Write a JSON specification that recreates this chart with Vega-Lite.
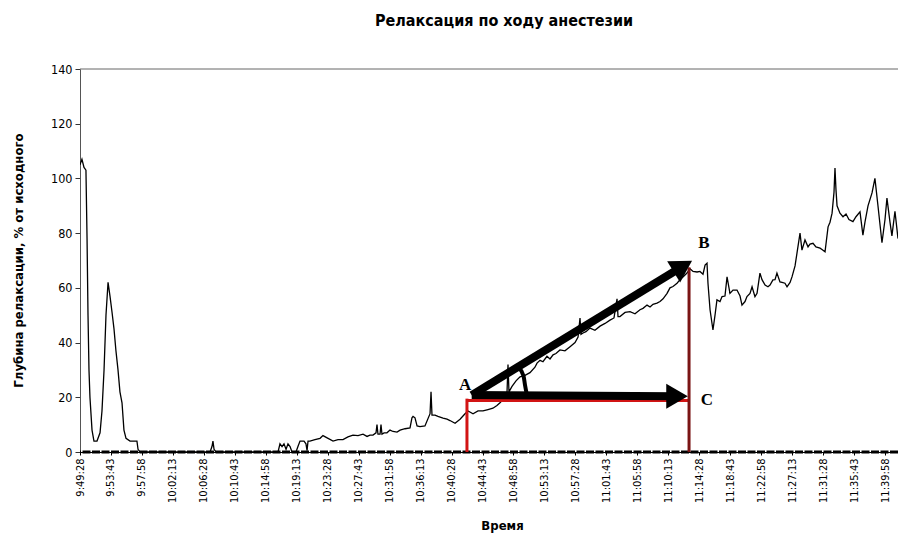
{
  "$schema": "https://vega.github.io/schema/vega-lite/v6.json",
  "width": 818,
  "height": 383,
  "autosize": "none",
  "padding": {"left": 80, "top": 69, "right": 0, "bottom": 82},
  "background": "white",
  "config": {
    "view": {"stroke": null},
    "font": "Liberation Sans Narrow, DejaVu Sans Condensed, sans-serif",
    "axisX": {"labelOverlap": false, "labelBound": false}
  },
  "title": {
    "text": "Релаксация по ходу анестезии",
    "fontSize": 16,
    "fontWeight": "bold",
    "color": "black",
    "offset": 34,
    "dx": 15,
    "font": "Liberation Sans Narrow, DejaVu Sans Condensed, sans-serif"
  },
  "datasets": {
    "series": [
      {"t": "9:49:28", "v": 105}, {"t": "9:49:44", "v": 107}, {"t": "9:50:01", "v": 104}, {"t": "9:50:17", "v": 103},
      {"t": "9:50:26", "v": 78}, {"t": "9:50:34", "v": 50}, {"t": "9:50:42", "v": 30}, {"t": "9:50:50", "v": 20},
      {"t": "9:51:07", "v": 8}, {"t": "9:51:23", "v": 4}, {"t": "9:51:48", "v": 4}, {"t": "9:52:13", "v": 7},
      {"t": "9:52:29", "v": 15}, {"t": "9:52:46", "v": 30}, {"t": "9:53:02", "v": 50}, {"t": "9:53:19", "v": 62},
      {"t": "9:53:35", "v": 57}, {"t": "9:53:52", "v": 51}, {"t": "9:54:08", "v": 45}, {"t": "9:54:24", "v": 37},
      {"t": "9:54:41", "v": 30}, {"t": "9:54:57", "v": 22}, {"t": "9:55:14", "v": 18}, {"t": "9:55:30", "v": 8},
      {"t": "9:55:47", "v": 5}, {"t": "9:56:20", "v": 4}, {"t": "9:56:53", "v": 4}, {"t": "9:57:17", "v": 4},
      {"t": "9:57:26", "v": 1}, {"t": "9:57:42", "v": 0}, {"t": "10:07:19", "v": 0}, {"t": "10:07:35", "v": 2},
      {"t": "10:07:43", "v": 4}, {"t": "10:07:52", "v": 1}, {"t": "10:08:08", "v": 0}, {"t": "10:16:39", "v": 0},
      {"t": "10:16:55", "v": 3}, {"t": "10:17:12", "v": 2}, {"t": "10:17:28", "v": 3}, {"t": "10:17:45", "v": 1},
      {"t": "10:18:01", "v": 3}, {"t": "10:18:18", "v": 2}, {"t": "10:18:34", "v": 0}, {"t": "10:19:07", "v": 0},
      {"t": "10:19:23", "v": 2}, {"t": "10:19:40", "v": 4}, {"t": "10:20:13", "v": 4}, {"t": "10:20:29", "v": 3},
      {"t": "10:20:38", "v": 0.5}, {"t": "10:20:46", "v": 4}, {"t": "10:21:02", "v": 4}, {"t": "10:21:43", "v": 4.5},
      {"t": "10:22:25", "v": 5}, {"t": "10:22:49", "v": 6}, {"t": "10:23:31", "v": 5}, {"t": "10:24:12", "v": 4},
      {"t": "10:24:53", "v": 4.5}, {"t": "10:25:34", "v": 4.5}, {"t": "10:26:15", "v": 5.5}, {"t": "10:26:56", "v": 6.2},
      {"t": "10:27:38", "v": 6}, {"t": "10:28:19", "v": 6.5}, {"t": "10:28:52", "v": 5.7}, {"t": "10:29:16", "v": 6.2},
      {"t": "10:29:41", "v": 6.2}, {"t": "10:30:06", "v": 7}, {"t": "10:30:14", "v": 10}, {"t": "10:30:22", "v": 6.5},
      {"t": "10:30:39", "v": 6.5}, {"t": "10:30:47", "v": 10}, {"t": "10:30:55", "v": 6.5}, {"t": "10:31:12", "v": 7},
      {"t": "10:31:36", "v": 7}, {"t": "10:32:01", "v": 8}, {"t": "10:32:26", "v": 7.5}, {"t": "10:32:59", "v": 7.3},
      {"t": "10:33:24", "v": 8}, {"t": "10:34:05", "v": 8.5}, {"t": "10:34:46", "v": 8.8}, {"t": "10:35:02", "v": 12.5},
      {"t": "10:35:11", "v": 13}, {"t": "10:35:27", "v": 12.5}, {"t": "10:35:44", "v": 9.5}, {"t": "10:36:08", "v": 9.3},
      {"t": "10:36:49", "v": 9.5}, {"t": "10:37:31", "v": 14}, {"t": "10:37:39", "v": 22}, {"t": "10:37:47", "v": 13.5},
      {"t": "10:38:12", "v": 13.5}, {"t": "10:38:36", "v": 13}, {"t": "10:39:18", "v": 12.4}, {"t": "10:39:51", "v": 12},
      {"t": "10:40:15", "v": 11.5}, {"t": "10:40:57", "v": 10.5}, {"t": "10:41:38", "v": 12}, {"t": "10:42:19", "v": 14},
      {"t": "10:42:44", "v": 15}, {"t": "10:43:25", "v": 14}, {"t": "10:44:06", "v": 15}, {"t": "10:44:47", "v": 15},
      {"t": "10:45:28", "v": 15.5}, {"t": "10:46:09", "v": 16}, {"t": "10:46:42", "v": 17}, {"t": "10:47:07", "v": 18},
      {"t": "10:47:48", "v": 20}, {"t": "10:48:05", "v": 22}, {"t": "10:48:13", "v": 32}, {"t": "10:48:21", "v": 22},
      {"t": "10:48:46", "v": 24}, {"t": "10:49:19", "v": 26}, {"t": "10:49:52", "v": 27.5}, {"t": "10:50:33", "v": 28},
      {"t": "10:51:14", "v": 29}, {"t": "10:51:55", "v": 31}, {"t": "10:52:12", "v": 32.5}, {"t": "10:52:37", "v": 33.5},
      {"t": "10:53:01", "v": 33}, {"t": "10:53:34", "v": 35}, {"t": "10:53:59", "v": 34}, {"t": "10:54:24", "v": 35.5},
      {"t": "10:54:48", "v": 36}, {"t": "10:55:21", "v": 37.3}, {"t": "10:56:02", "v": 37}, {"t": "10:56:44", "v": 38.5},
      {"t": "10:57:25", "v": 40}, {"t": "10:57:50", "v": 42}, {"t": "10:58:06", "v": 49}, {"t": "10:58:14", "v": 43},
      {"t": "10:58:31", "v": 43.5}, {"t": "10:58:55", "v": 44}, {"t": "10:59:28", "v": 45.3}, {"t": "11:00:09", "v": 44.5},
      {"t": "11:00:51", "v": 46}, {"t": "11:01:32", "v": 47}, {"t": "11:02:13", "v": 48.2}, {"t": "11:02:46", "v": 49},
      {"t": "11:03:11", "v": 56}, {"t": "11:03:19", "v": 49.5}, {"t": "11:03:35", "v": 49.5}, {"t": "11:04:17", "v": 51},
      {"t": "11:04:58", "v": 51.3}, {"t": "11:05:39", "v": 50.5}, {"t": "11:06:20", "v": 52}, {"t": "11:06:45", "v": 52.5},
      {"t": "11:07:18", "v": 53.7}, {"t": "11:07:43", "v": 53}, {"t": "11:08:07", "v": 54}, {"t": "11:08:40", "v": 54.4},
      {"t": "11:09:05", "v": 55}, {"t": "11:09:30", "v": 56}, {"t": "11:10:03", "v": 58}, {"t": "11:10:27", "v": 60},
      {"t": "11:10:52", "v": 60.5}, {"t": "11:11:25", "v": 61.7}, {"t": "11:11:50", "v": 63}, {"t": "11:12:14", "v": 64},
      {"t": "11:12:47", "v": 65.4}, {"t": "11:13:12", "v": 67}, {"t": "11:13:37", "v": 66}, {"t": "11:14:10", "v": 65.8},
      {"t": "11:14:34", "v": 66}, {"t": "11:14:59", "v": 65}, {"t": "11:15:16", "v": 68.3}, {"t": "11:15:32", "v": 69},
      {"t": "11:15:40", "v": 61.7}, {"t": "11:15:57", "v": 52}, {"t": "11:16:21", "v": 44.6}, {"t": "11:16:38", "v": 50},
      {"t": "11:16:54", "v": 55.6}, {"t": "11:17:19", "v": 55}, {"t": "11:17:36", "v": 56.8}, {"t": "11:18:00", "v": 57},
      {"t": "11:18:17", "v": 64}, {"t": "11:18:41", "v": 58}, {"t": "11:19:06", "v": 59.2}, {"t": "11:19:39", "v": 59.2},
      {"t": "11:20:04", "v": 57}, {"t": "11:20:20", "v": 53.7}, {"t": "11:20:45", "v": 55}, {"t": "11:21:01", "v": 56.8},
      {"t": "11:21:26", "v": 58}, {"t": "11:21:43", "v": 60.4}, {"t": "11:22:07", "v": 56.8}, {"t": "11:22:24", "v": 58},
      {"t": "11:22:48", "v": 65.4}, {"t": "11:23:05", "v": 63}, {"t": "11:23:30", "v": 61}, {"t": "11:23:54", "v": 60.4},
      {"t": "11:24:11", "v": 61}, {"t": "11:24:35", "v": 62.9}, {"t": "11:24:52", "v": 63}, {"t": "11:25:08", "v": 65.4},
      {"t": "11:25:33", "v": 62.2}, {"t": "11:25:50", "v": 62}, {"t": "11:26:14", "v": 61.7}, {"t": "11:26:31", "v": 60.4},
      {"t": "11:26:56", "v": 62}, {"t": "11:27:12", "v": 64}, {"t": "11:27:37", "v": 68}, {"t": "11:27:53", "v": 72.7},
      {"t": "11:28:18", "v": 80}, {"t": "11:28:34", "v": 73.8}, {"t": "11:28:59", "v": 77.5}, {"t": "11:29:24", "v": 75},
      {"t": "11:29:40", "v": 76}, {"t": "11:30:05", "v": 76.3}, {"t": "11:30:29", "v": 75}, {"t": "11:31:03", "v": 74.5},
      {"t": "11:31:19", "v": 74}, {"t": "11:31:44", "v": 73.2}, {"t": "11:32:09", "v": 82.3}, {"t": "11:32:25", "v": 84},
      {"t": "11:32:42", "v": 87.3}, {"t": "11:32:58", "v": 95}, {"t": "11:33:06", "v": 103.8}, {"t": "11:33:14", "v": 96},
      {"t": "11:33:23", "v": 90}, {"t": "11:33:47", "v": 87.3}, {"t": "11:34:12", "v": 86}, {"t": "11:34:37", "v": 87},
      {"t": "11:35:01", "v": 85}, {"t": "11:35:34", "v": 84.2}, {"t": "11:35:59", "v": 86}, {"t": "11:36:32", "v": 87.8},
      {"t": "11:36:56", "v": 79.3}, {"t": "11:37:13", "v": 84}, {"t": "11:37:38", "v": 90}, {"t": "11:38:11", "v": 94.7},
      {"t": "11:38:35", "v": 100}, {"t": "11:39:00", "v": 90}, {"t": "11:39:33", "v": 76.5}, {"t": "11:39:58", "v": 85},
      {"t": "11:40:14", "v": 92.8}, {"t": "11:40:39", "v": 84}, {"t": "11:40:55", "v": 79}, {"t": "11:41:20", "v": 88},
      {"t": "11:41:45", "v": 78}
    ],
    "redlines": [
      {"seg": "left", "t": "10:42:35", "v": 0}, {"seg": "left", "t": "10:42:35", "v": 19.5},
      {"seg": "bottom", "t": "10:42:35", "v": 18.8}, {"seg": "bottom", "t": "11:13:04", "v": 18.8},
      {"seg": "right", "t": "11:13:04", "v": 0}, {"seg": "right", "t": "11:13:04", "v": 67.5}
    ],
    "shafts": [
      {"seg": "AB", "t": "10:43:14", "v": 20.8}, {"seg": "AB", "t": "11:12:13", "v": 67.9},
      {"seg": "AC", "t": "10:43:14", "v": 20.8}, {"seg": "AC", "t": "11:11:25", "v": 20.4}
    ],
    "headC": [{"t": "11:11:25", "v": 20.4}],
    "headB": [{"t": "11:12:13", "v": 67.9}],
    "arc": [
      {"t": "10:50:49", "v": 20.8}, {"t": "10:50:33", "v": 24.5}, {"t": "10:50:21", "v": 27.8}, {"t": "10:49:44", "v": 30.7}
    ],
    "letters": [
      {"label": "A", "t": "10:42:19", "v": 24.5},
      {"label": "B", "t": "11:15:07", "v": 76.4},
      {"label": "C", "t": "11:15:32", "v": 19}
    ],
    "top": [{"v": 140}],
    "base": [{"v": 0}]
  },
  "layer": [
    {
      "data": {"name": "series", "format": {"parse": {"t": "date:'%H:%M:%S'"}}},
      "mark": {"type": "line", "color": "black", "strokeWidth": 1.3, "clip": true},
      "encoding": {
        "x": {
          "field": "t",
          "type": "temporal",
          "scale": {
            "domain": [
              {"year": 1900, "month": 1, "date": 1, "hours": 9, "minutes": 49, "seconds": 28},
              {"year": 1900, "month": 1, "date": 1, "hours": 11, "minutes": 41, "seconds": 45}
            ]
          },
          "axis": {
            "title": "Время",
            "titleFontSize": 13,
            "titleFontWeight": "bold",
            "titleColor": "black",
            "titleX": 422,
            "titleY": 77,
            "titleBaseline": "alphabetic",
            "format": "%-H:%M:%S",
            "labelAngle": 270,
            "labelAlign": "right",
            "labelBaseline": "middle",
            "labelFontSize": 11,
            "labelColor": "black",
            "labelPadding": 3,
            "labelOverlap": false,
            "labelFlush": false,
            "tickCount": 200,
            "tickSize": 3,
            "tickColor": "black",
            "domainColor": "black",
            "grid": false,
            "values": [
              {"year": 1900, "month": 1, "date": 1, "hours": 9, "minutes": 49, "seconds": 28},
              {"year": 1900, "month": 1, "date": 1, "hours": 9, "minutes": 53, "seconds": 43},
              {"year": 1900, "month": 1, "date": 1, "hours": 9, "minutes": 57, "seconds": 58},
              {"year": 1900, "month": 1, "date": 1, "hours": 10, "minutes": 2, "seconds": 13},
              {"year": 1900, "month": 1, "date": 1, "hours": 10, "minutes": 6, "seconds": 28},
              {"year": 1900, "month": 1, "date": 1, "hours": 10, "minutes": 10, "seconds": 43},
              {"year": 1900, "month": 1, "date": 1, "hours": 10, "minutes": 14, "seconds": 58},
              {"year": 1900, "month": 1, "date": 1, "hours": 10, "minutes": 19, "seconds": 13},
              {"year": 1900, "month": 1, "date": 1, "hours": 10, "minutes": 23, "seconds": 28},
              {"year": 1900, "month": 1, "date": 1, "hours": 10, "minutes": 27, "seconds": 43},
              {"year": 1900, "month": 1, "date": 1, "hours": 10, "minutes": 31, "seconds": 58},
              {"year": 1900, "month": 1, "date": 1, "hours": 10, "minutes": 36, "seconds": 13},
              {"year": 1900, "month": 1, "date": 1, "hours": 10, "minutes": 40, "seconds": 28},
              {"year": 1900, "month": 1, "date": 1, "hours": 10, "minutes": 44, "seconds": 43},
              {"year": 1900, "month": 1, "date": 1, "hours": 10, "minutes": 48, "seconds": 58},
              {"year": 1900, "month": 1, "date": 1, "hours": 10, "minutes": 53, "seconds": 13},
              {"year": 1900, "month": 1, "date": 1, "hours": 10, "minutes": 57, "seconds": 28},
              {"year": 1900, "month": 1, "date": 1, "hours": 11, "minutes": 1, "seconds": 43},
              {"year": 1900, "month": 1, "date": 1, "hours": 11, "minutes": 5, "seconds": 58},
              {"year": 1900, "month": 1, "date": 1, "hours": 11, "minutes": 10, "seconds": 13},
              {"year": 1900, "month": 1, "date": 1, "hours": 11, "minutes": 14, "seconds": 28},
              {"year": 1900, "month": 1, "date": 1, "hours": 11, "minutes": 18, "seconds": 43},
              {"year": 1900, "month": 1, "date": 1, "hours": 11, "minutes": 22, "seconds": 58},
              {"year": 1900, "month": 1, "date": 1, "hours": 11, "minutes": 27, "seconds": 13},
              {"year": 1900, "month": 1, "date": 1, "hours": 11, "minutes": 31, "seconds": 28},
              {"year": 1900, "month": 1, "date": 1, "hours": 11, "minutes": 35, "seconds": 43},
              {"year": 1900, "month": 1, "date": 1, "hours": 11, "minutes": 39, "seconds": 58}
            ]
          }
        },
        "y": {
          "field": "v",
          "type": "quantitative",
          "scale": {"domain": [0, 140], "nice": false},
          "axis": {
            "title": "Глубина релаксации, % от исходного",
            "titleFontSize": 13,
            "titleFontWeight": "bold",
            "titleColor": "black",
            "titleAngle": 270,
            "titleX": -62,
            "titleY": 191,
            "titleAlign": "center",
            "titleBaseline": "middle",
            "values": [0, 20, 40, 60, 80, 100, 120, 140],
            "labelFontSize": 12.5,
            "labelColor": "black",
            "labelPadding": 3,
            "tickSize": 5,
            "tickColor": "#333",
            "domainColor": "#555",
            "grid": false
          }
        }
      }
    },
    {
      "data": {"name": "top"},
      "mark": {"type": "rule", "color": "#666", "strokeWidth": 1},
      "encoding": {"y": {"field": "v", "type": "quantitative"}}
    },
    {
      "data": {"name": "base"},
      "mark": {"type": "rule", "color": "black", "strokeWidth": 3, "strokeDash": [8, 1.5]},
      "encoding": {"y": {"field": "v", "type": "quantitative"}}
    },
    {
      "data": {"name": "redlines", "format": {"parse": {"t": "date:'%H:%M:%S'"}}},
      "mark": {"type": "line", "strokeWidth": 3, "strokeCap": "butt"},
      "encoding": {
        "x": {"field": "t", "type": "temporal"},
        "y": {"field": "v", "type": "quantitative"},
        "detail": {"field": "seg"},
        "color": {"field": "seg", "type": "nominal", "legend": null,
          "scale": {"domain": ["left", "bottom", "right"], "range": ["#d21414", "#d21414", "#7a1414"]}}
      }
    },
    {
      "data": {"name": "shafts", "format": {"parse": {"t": "date:'%H:%M:%S'"}}},
      "mark": {"type": "line", "color": "black", "strokeWidth": 8, "strokeCap": "butt"},
      "encoding": {
        "x": {"field": "t", "type": "temporal"},
        "y": {"field": "v", "type": "quantitative"},
        "detail": {"field": "seg"}
      }
    },
    {
      "data": {"name": "headC", "format": {"parse": {"t": "date:'%H:%M:%S'"}}},
      "mark": {"type": "point", "shape": "triangle-up", "angle": 90, "size": 620, "filled": true, "color": "black", "opacity": 1},
      "encoding": {"x": {"field": "t", "type": "temporal"}, "y": {"field": "v", "type": "quantitative"}}
    },
    {
      "data": {"name": "headB", "format": {"parse": {"t": "date:'%H:%M:%S'"}}},
      "mark": {"type": "point", "shape": "triangle-up", "angle": 58.6, "size": 620, "filled": true, "color": "black", "opacity": 1},
      "encoding": {"x": {"field": "t", "type": "temporal"}, "y": {"field": "v", "type": "quantitative"}}
    },
    {
      "data": {"name": "arc", "format": {"parse": {"t": "date:'%H:%M:%S'"}}},
      "mark": {"type": "line", "color": "black", "strokeWidth": 4, "interpolate": "monotone"},
      "encoding": {"x": {"field": "t", "type": "temporal"}, "y": {"field": "v", "type": "quantitative"}}
    },
    {
      "data": {"name": "letters", "format": {"parse": {"t": "date:'%H:%M:%S'"}}},
      "mark": {"type": "text", "font": "Liberation Serif, DejaVu Serif, serif", "fontWeight": "bold", "fontSize": 17, "color": "black", "baseline": "middle", "align": "center"},
      "encoding": {"x": {"field": "t", "type": "temporal"}, "y": {"field": "v", "type": "quantitative"}, "text": {"field": "label"}}
    }
  ]
}
